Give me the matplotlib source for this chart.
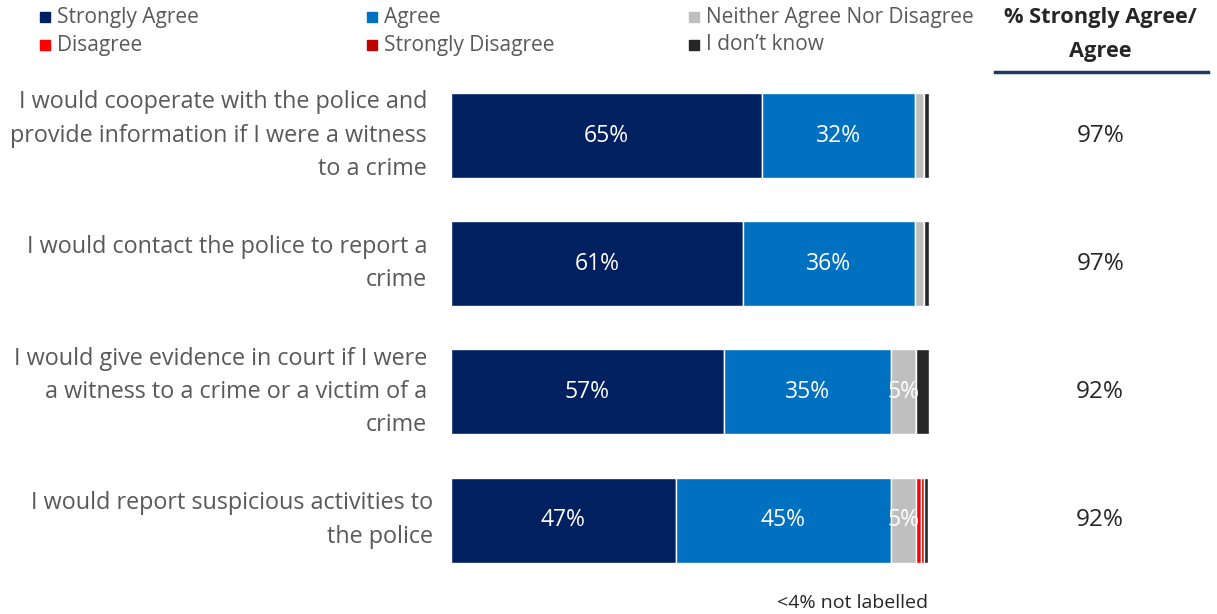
import matplotlib
matplotlib.use("Agg")
import matplotlib.pyplot as plt
from matplotlib.lines import Line2D
import numpy as np

plt.rcParams['font.family'] = ['Open Sans', 'DejaVu Sans']

statements = [
    "I would cooperate with the police and\nprovide information if I were a witness\nto a crime",
    "I would contact the police to report a\ncrime",
    "I would give evidence in court if I were\na witness to a crime or a victim of a\ncrime",
    "I would report suspicious activities to\nthe police",
]
categories = ["Strongly Agree", "Agree", "Neither Agree Nor Disagree",
              "Disagree", "Strongly Disagree", "I don\u2019t know"]
colors = ["#002060", "#0070C0", "#BFBFBF", "#FF0000", "#C00000", "#262626"]

strongly_agree = [65, 61, 57, 47]
agree = [32, 36, 35, 45]
neither = [2.0, 2.0, 5.2, 5.3]
disagree = [0, 0, 0, 1.0]
strongly_disagree = [0, 0, 0, 0.6]
dont_know = [1.0, 1.0, 2.8, 0.8]
net_agree = ["97%", "97%", "92%", "92%"]

series = [strongly_agree, agree, neither, disagree, strongly_disagree, dont_know]

fig = plt.figure(figsize=(12.17, 6.14), dpi=100)
ax = fig.add_axes([0.3706, 0.0484, 0.3928, 0.8353])

y = np.arange(len(statements))
left = np.zeros(len(statements))
for vals, col in zip(series, colors):
    vals = np.array(vals, dtype=float)
    ax.barh(y, vals, left=left, height=0.663, color=col,
            edgecolor="white", linewidth=1.0)
    for i, v in enumerate(vals):
        if v >= 4:
            ax.text(left[i] + v / 2, y[i], f"{v:.0f}%", ha="center", va="center",
                    color="white", fontsize=16.5)
    left += vals

ax.set_xlim(0, 100)
ax.set_ylim(3.5, -0.5)
ax.axis("off")

label_grey = "#595959"
for i, s in enumerate(statements):
    xoff = -3.7 if i == 3 else -5
    ax.text(xoff, y[i], s, ha="right", va="center", fontsize=16.8,
            color=label_grey, linespacing=1.52, clip_on=False)
    ax.text(135.8, y[i], net_agree[i], ha="center", va="center",
            fontsize=17.5, color="#262626", clip_on=False)

# legend laid out in three columns
leg_x = [45, 372, 694]
leg_y = [17, 45]
W, H = 1217, 614
for k, (name, col) in enumerate(zip(categories, colors)):
    px = leg_x[k % 3]
    py = leg_y[k // 3]
    fig.add_artist(Line2D([px / W], [1 - py / H], marker="s", markersize=7,
                          color=col, linestyle="none", transform=fig.transFigure))
    fig.text((px + 12) / W, 1 - py / H, name, ha="left", va="center",
             fontsize=15, color=label_grey)

fig.text(1100 / W, 1 - 17 / H, "% Strongly Agree/", ha="center", va="center",
         fontsize=15.7, fontweight="bold", color="#262626")
fig.text(1100 / W, 1 - 51 / H, "Agree", ha="center", va="center",
         fontsize=15.7, fontweight="bold", color="#262626")
fig.add_artist(Line2D([995 / W, 1208 / W], [1 - 72 / H, 1 - 72 / H],
                      color="#1F3864", linewidth=2.5, transform=fig.transFigure))

fig.text(928 / W, 1 - 603 / H, "<4% not labelled", ha="right", va="center",
         fontsize=14, color="#262626")

fig.savefig("out.png", dpi=100)
